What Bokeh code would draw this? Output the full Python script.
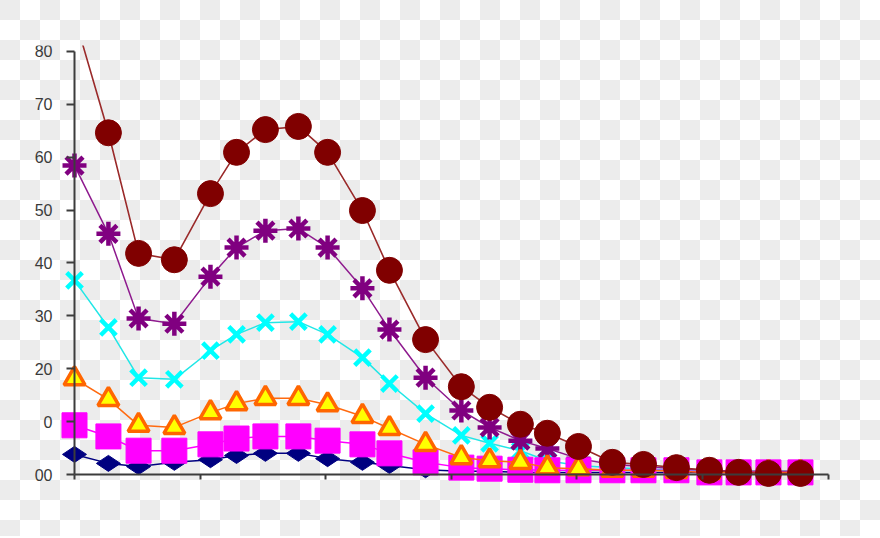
import numpy as np
from bokeh.plotting import figure
from bokeh.models import FixedTicker, Range1d
from bokeh.embed import file_html
from bokeh.resources import INLINE

# ---- data ----
x_vals = [0, 1.08, 2.04, 3.18, 4.33, 5.16, 6.08, 7.13, 8.06, 9.17, 10.03, 11.18,
          12.32, 13.22, 14.2, 15.06, 16.05, 17.13, 18.12, 19.17, 20.22, 21.15, 22.1, 23.12]

brown = [86.6, 64.6, 41.8, 40.6, 53.1, 60.9, 65.2, 65.8, 60.9, 49.9, 38.6, 25.5,
         16.6, 12.7, 9.5, 7.8, 5.3, 2.3, 1.9, 1.3, 0.8, 0.4, 0.2, 0.2]
purple = [58.4, 45.5, 29.5, 28.5, 37.4, 42.9, 46.1, 46.5, 42.9, 35.2, 27.4, 18.3,
          12.1, 8.9, 6.4, 4.9, 3.0, 1.9, 1.5, 1.1, 0.8, 0.6, 0.6, 0.6]
cyan = [36.7, 27.8, 18.3, 18.0, 23.4, 26.5, 28.7, 28.9, 26.5, 22.1, 17.2, 11.5,
        7.4, 5.9, 4.5, 2.6, 1.7, 1.3, 1.1, 0.8, 0.6, 0.6, 0.6, 0.6]
orange = [18.1, 14.2, 9.3, 8.9, 11.7, 13.4, 14.4, 14.4, 13.2, 11.0, 8.7, 5.7,
          3.2, 2.6, 2.3, 1.3, 1.1, 0.8, 0.8, 0.6, 0.4, 0.4, 0.4, 0.4]
magenta = [9.3, 7.2, 4.5, 4.5, 5.7, 6.8, 7.2, 7.2, 6.4, 5.7, 4.0, 2.3,
           1.3, 1.1, 0.9, 0.8, 0.8, 0.8, 0.8, 0.8, 0.4, 0.4, 0.4, 0.4]
navy = [3.8, 2.1, 1.5, 2.3, 2.8, 3.6, 4.0, 4.0, 3.0, 2.3, 1.7, 0.9,
        0.6, 0.6, 0.4, 0.4, 0.4, 0.4, 0.4, 0.4, 0.4, 0.4, 0.4, 0.4]

y_ticks = [0, 10, 20, 30, 40, 50, 60, 70, 80]
y_tick_labels = ["00", "0", "20", "30", "40", "50", "60", "70", "80"]
x_ticks = [0, 4, 8, 12, 16, 20, 24]

# ---- figure ----
W, H = 880, 536
p = figure(width=W, height=H, output_backend="svg", toolbar_location=None,
           x_range=Range1d(-2.357, 25.669), y_range=Range1d(-11.72, 81.10),
           min_border_left=0, min_border_right=0, min_border_bottom=0, min_border_top=45)
p.background_fill_alpha = 0
p.border_fill_alpha = 0
p.outline_line_color = None
p.grid.visible = False
p.styles = {
    "background": "repeating-conic-gradient(#ffffff 0% 25%, #ececec 0% 50%) 0px 0px / 40px 40px",
}

# axes at fixed positions
ya = p.yaxis[0]
ya.fixed_location = 0
ya.bounds = (0, 80)
ya.ticker = FixedTicker(ticks=y_ticks)
ya.major_label_overrides = {t: l for t, l in zip(y_ticks, y_tick_labels)}
ya.minor_tick_line_color = None
ya.major_tick_out = 8
ya.major_tick_in = 0
ya.major_label_standoff = 14
ya.axis_line_color = "#3c3c3c"
ya.axis_line_width = 2
ya.major_tick_line_color = "#3c3c3c"
ya.major_tick_line_width = 2
ya.major_label_text_font = "Liberation Sans"
ya.major_label_text_font_size = "16px"
ya.major_label_text_color = "#3a3a3a"
ya.major_label_text_baseline = "alphabetic"

xa = p.xaxis[0]
xa.fixed_location = 0
xa.bounds = (0, 24)
xa.ticker = FixedTicker(ticks=x_ticks)
xa.major_label_overrides = {t: "" for t in x_ticks}
xa.minor_tick_line_color = None
xa.major_tick_out = 5
xa.major_tick_in = 0
xa.axis_line_color = "#3c3c3c"
xa.axis_line_width = 2
xa.major_tick_line_color = "#3c3c3c"
xa.major_tick_line_width = 2

# ---- series ----
# navy diamonds
p.line(x_vals, navy, line_color="#000080", line_width=1.5)
p.scatter(x_vals, navy, marker="diamond", size=24, angle=np.pi / 2,
          fill_color="#000080", line_color="#000080")
# cyan crosses
p.line(x_vals, cyan, line_color="#22e6e6", line_width=1.5)
p.scatter(x_vals, cyan, marker="x", size=22, line_color="#00ffff", line_width=4.5)
# purple asterisks
p.line(x_vals, purple, line_color="#8e1a8e", line_width=1.5)
p.scatter(x_vals, purple, marker="asterisk", size=24, line_color="#800080", line_width=4.5)
# magenta squares
p.line(x_vals, magenta, line_color="#ff00ff", line_width=1.5)
p.scatter(x_vals, magenta, marker="square", size=25, fill_color="#ff00ff", line_color="#ff00ff")
# orange/yellow triangles
p.line(x_vals, orange, line_color="#ff6a10", line_width=1.5)
p.scatter(x_vals, orange, marker="triangle", size=21, fill_color="#ffff00",
          line_color="#ff6600", line_width=3.5)
# dark red circles
p.line(x_vals, brown, line_color="#9a2a2a", line_width=1.6)
p.scatter(x_vals, brown, marker="circle", size=26, fill_color="#800000", line_color="#800000")

open("out.html", "w").write(file_html(p, INLINE))
